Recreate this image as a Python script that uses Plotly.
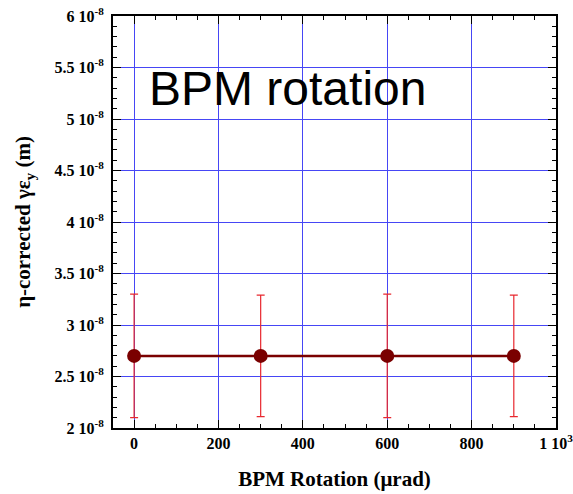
import plotly.graph_objects as go

rotation = [0, 300, 600, 900]
emittance = [2.7e-8, 2.7e-8, 2.7e-8, 2.7e-8]
err = [0.6e-8, 0.59e-8, 0.6e-8, 0.59e-8]

x_tickvals = [0, 200, 400, 600, 800, 1000]
x_ticktext = ["0", "200", "400", "600", "800", "1 10<sup>3</sup>"]
y_tickvals = [2e-8, 2.5e-8, 3e-8, 3.5e-8, 4e-8, 4.5e-8, 5e-8, 5.5e-8, 6e-8]
y_ticktext = ["2 10<sup>-8</sup>", "2.5 10<sup>-8</sup>", "3 10<sup>-8</sup>", "3.5 10<sup>-8</sup>",
              "4 10<sup>-8</sup>", "4.5 10<sup>-8</sup>", "5 10<sup>-8</sup>", "5.5 10<sup>-8</sup>",
              "6 10<sup>-8</sup>"]

fig = go.Figure()
fig.add_trace(go.Scatter(
    x=rotation, y=emittance, mode="lines+markers",
    line=dict(color="#7a0000", width=2.5),
    marker=dict(color="#7a0000", size=14),
    error_y=dict(type="data", array=err, color="#e8282f", thickness=1.2, width=4),
    showlegend=False,
))

font_serif = "Liberation Serif"
fig.add_annotation(
    text="BPM rotation", x=30, y=5.3e-8, xref="x", yref="y",
    xanchor="left", yanchor="middle", showarrow=False,
    font=dict(family="Liberation Sans", size=48, color="black"),
)

axis_common = dict(
    showline=True, linecolor="black", linewidth=2, mirror="allticks",
    ticks="inside", ticklen=8, tickwidth=1.2, tickcolor="black",
    showgrid=True, gridcolor="#4646f5", gridwidth=1,
    zeroline=False, automargin=False, ticklabeloverflow="allow",
    tickfont=dict(family=font_serif, size=16, color="black"),
)

fig.update_layout(
    width=573, height=494,
    margin=dict(l=113, r=17, t=16, b=66),
    plot_bgcolor="white", paper_bgcolor="white",
    xaxis=dict(
        **axis_common,
        range=[-50, 1000],
        tickmode="array", tickvals=x_tickvals, ticktext=["<b>" + t + "</b>" for t in x_ticktext],
        minor=dict(tickmode="linear", tick0=0, dtick=50, ticks="inside", ticklen=4,
                   tickcolor="black", showgrid=False),
        title=dict(text="<b>BPM Rotation (μrad)</b>", standoff=20,
                   font=dict(family=font_serif, size=21, color="black")),
    ),
    yaxis=dict(
        **axis_common,
        range=[2e-8, 6e-8],
        tickmode="array", tickvals=y_tickvals, ticktext=["<b>" + t + "</b>" for t in y_ticktext],
        ticklabelstandoff=4,
        minor=dict(tickmode="linear", tick0=0, dtick=0.1e-8, ticks="inside", ticklen=4,
                   tickcolor="black", showgrid=False),
        title=dict(text="<b>η-corrected γε<sub>y</sub> (m)</b>", standoff=18,
                   font=dict(family=font_serif, size=21, color="black")),
    ),
)

fig.write_html("out.html")
